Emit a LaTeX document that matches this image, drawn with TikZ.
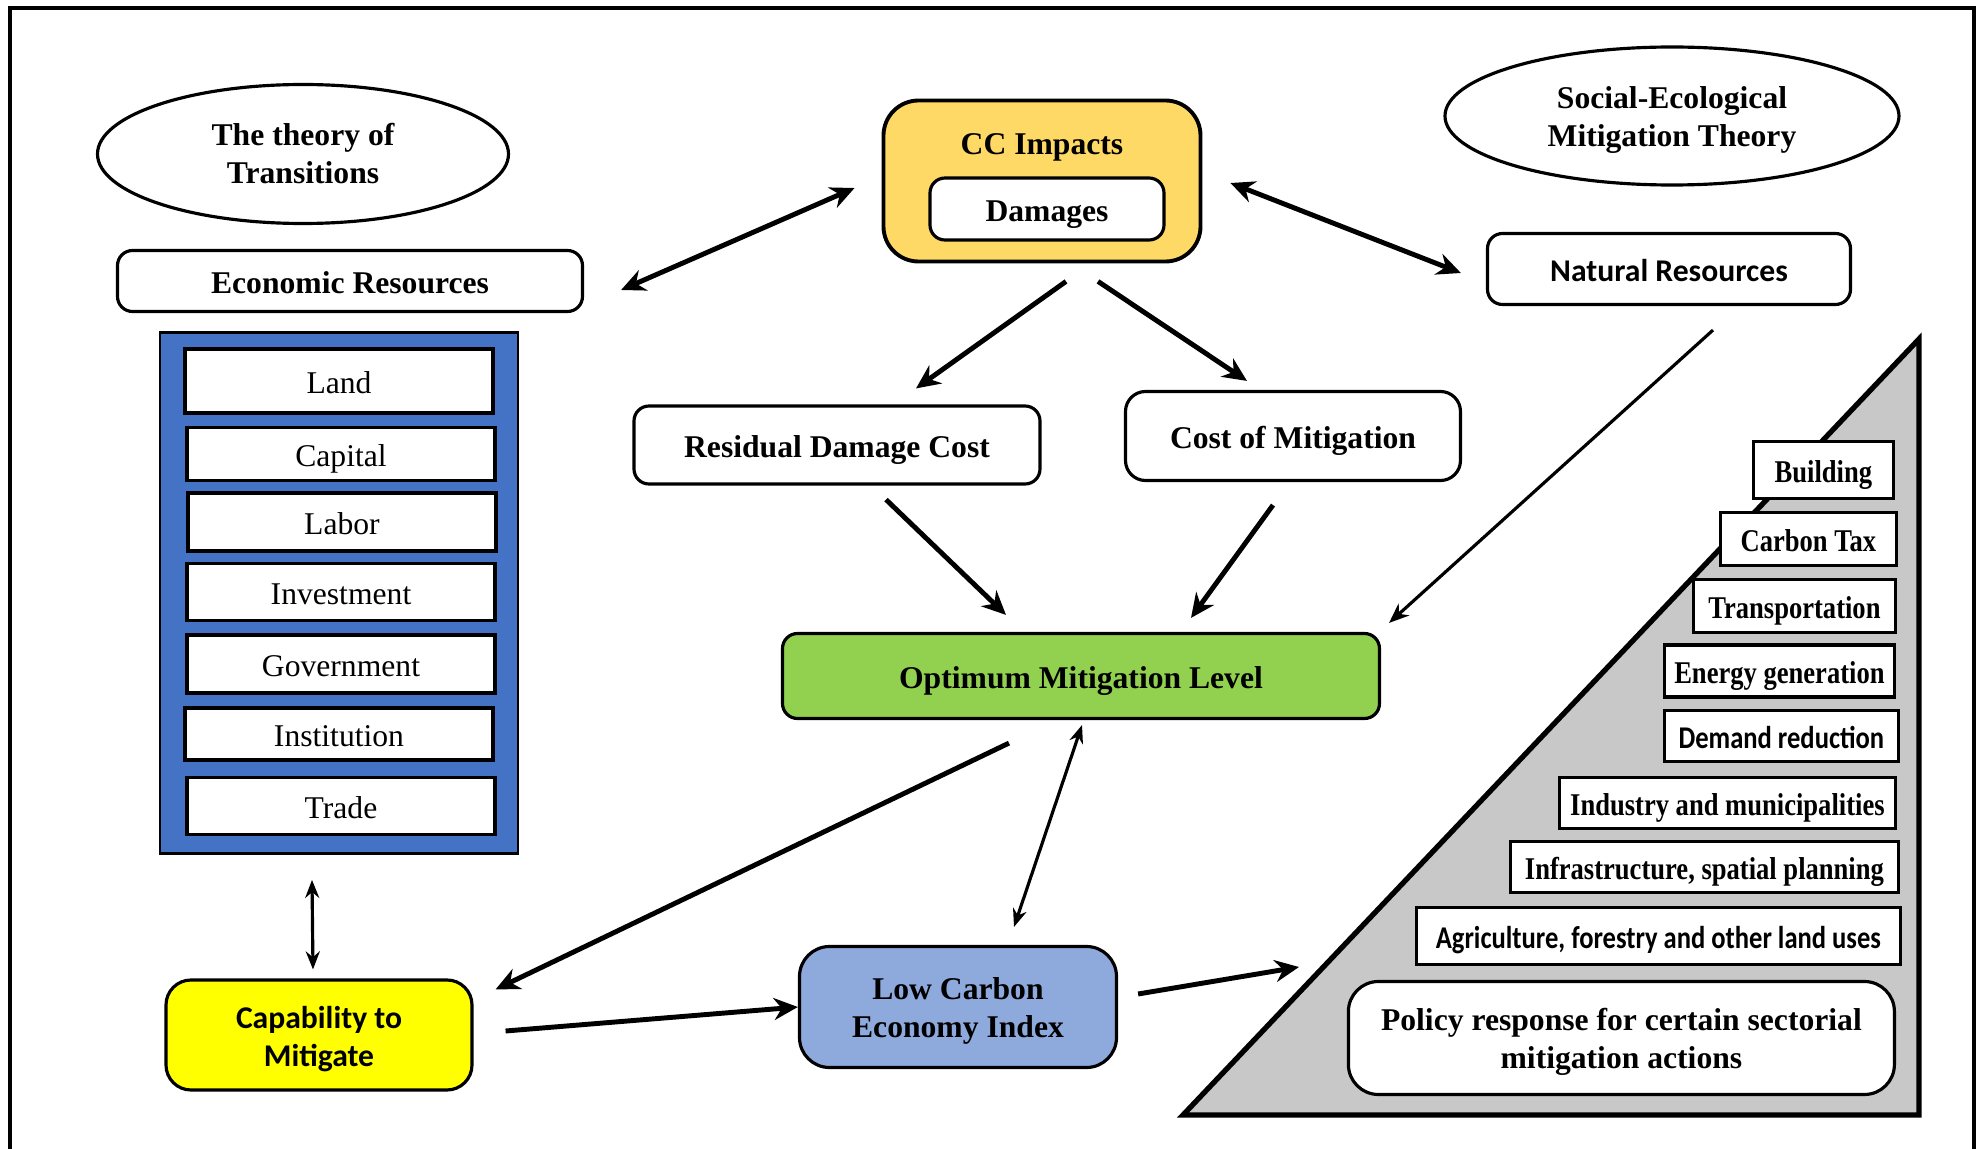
\documentclass[tikz,border=0pt]{standalone}
\usepackage{fontspec}
\setmainfont{Liberation Serif}
\newfontfamily\calibri{Carlito}
\newfontfamily\serifcond[FakeStretch=0.84]{Liberation Serif}
\newfontfamily\calibricond[FakeStretch=0.84]{Carlito}
\usepackage{xcolor}
\usetikzlibrary{shapes.geometric, arrows.meta}
\newcommand{\alto}{\rule{0pt}{8.5pt}}

\begin{document}
\begin{tikzpicture}[
  every node/.style={font=\fontsize{9}{10.8}\selectfont\bfseries, align=center, inner sep=0pt},
  linea/.style={text height=8.5pt, text depth=1.5pt},
  caja/.style={draw, rounded corners=1.5mm, line width=0.9pt},
  elipse/.style={ellipse, draw, line width=0.9pt},
  factor/.style={draw, fill=white, line width=0.9pt, linea, minimum width=3.08cm, font=\fontsize{9}{10.8}\selectfont},
  sector/.style={draw, fill=white, line width=0.9pt, linea, anchor=east, font=\fontsize{9}{10.8}\selectfont\serifcond\bfseries},
  flecha/.style={line width=1.4pt, -{Stealth[length=2.4mm, width=2.2mm]}},
  flechadoble/.style={line width=1.4pt, {Stealth[length=2.4mm, width=2.2mm]}-{Stealth[length=2.4mm, width=2.2mm]}},
  flechafina/.style={line width=0.9pt, -{Stealth[length=2mm, width=1.6mm]}},
  flechafinadoble/.style={line width=0.9pt, {Stealth[length=1.8mm, width=1.4mm]}-{Stealth[length=1.8mm, width=1.4mm]}}
]

% Colores de relleno
\definecolor{amarilloCC}{RGB}{255,217,102}
\definecolor{amarilloCap}{RGB}{255,255,0}
\definecolor{verdeOpt}{RGB}{146,208,80}
\definecolor{azulPanel}{RGB}{68,114,196}
\definecolor{azulLCE}{RGB}{142,169,219}
\definecolor{grisTri}{RGB}{200,200,200}

\useasboundingbox (0,0) rectangle (19.82,-11.49);

% Marco
\draw[line width=1.2pt] (0.10,-11.49) -- (0.10,-0.08) -- (19.74,-0.08) -- (19.74,-11.49);

% Teorias
\node[elipse, minimum width=4.11cm, minimum height=1.39cm] (transiciones) at (3.03,-1.54) {The theory of\\Transitions};
\node[elipse, minimum width=4.54cm, minimum height=1.38cm] (socioeco) at (16.72,-1.16) {\alto Social-Ecological\\Mitigation Theory};

% Recursos
\node[caja, linea, minimum width=4.65cm, minimum height=0.61cm] (econ) at (3.50,-2.81) {Economic Resources};
\node[caja, linea, minimum width=3.63cm, minimum height=0.71cm, font=\fontsize{9}{10.8}\selectfont\calibri\bfseries] (natural) at (16.69,-2.69) {Natural Resources};

% Panel de factores
\node[draw, fill=azulPanel, line width=0.8pt, minimum width=3.58cm, minimum height=5.21cm] (panel) at (3.39,-5.93) {};
\node[factor, minimum height=0.64cm] (land) at (3.39,-3.81) {Land};
\node[factor, minimum height=0.53cm] (capital) at (3.41,-4.54) {Capital};
\node[factor, minimum height=0.58cm] (labor) at (3.42,-5.22) {Labor};
\node[factor, minimum height=0.57cm] (invest) at (3.41,-5.92) {Investment};
\node[factor, minimum height=0.58cm] (gov) at (3.41,-6.64) {Government};
\node[factor, minimum height=0.52cm] (inst) at (3.39,-7.34) {Institution};
\node[factor, minimum height=0.57cm] (trade) at (3.41,-8.06) {Trade};

% Impactos
\node[caja, fill=amarilloCC, rounded corners=3.5mm, line width=1.1pt, minimum width=3.17cm, minimum height=1.61cm] (cc) at (10.42,-1.81) {};
\node[linea] (cctitulo) at (10.42,-1.42) {CC Impacts};
\node[caja, linea, fill=white, minimum width=2.34cm, minimum height=0.62cm] (damages) at (10.47,-2.09) {Damages};

% Costes
\node[caja, linea, minimum width=4.06cm, minimum height=0.78cm] (residual) at (8.37,-4.45) {Residual Damage Cost};
\node[caja, linea, rounded corners=2mm, minimum width=3.35cm, minimum height=0.89cm] (cost) at (12.93,-4.36) {Cost of Mitigation};

% Nivel optimo
\node[caja, linea, fill=verdeOpt, minimum width=5.97cm, minimum height=0.85cm] (optimum) at (10.81,-6.76) {Optimum Mitigation Level};

% Capacidad e indice
\node[caja, fill=amarilloCap, rounded corners=2.5mm, minimum width=3.06cm, minimum height=1.10cm, font=\fontsize{9}{10.8}\selectfont\calibri\bfseries] (capability) at (3.19,-10.35) {\alto Capability to\\Mitigate};
\node[caja, fill=azulLCE, rounded corners=3mm, minimum width=3.17cm, minimum height=1.21cm] (lowcarbon) at (9.58,-10.07) {\alto Low Carbon\\Economy Index};

% Triangulo de politicas
\coordinate (triA) at (11.83,-11.15);
\coordinate (triB) at (19.19,-3.39);
\coordinate (triC) at (19.19,-11.15);
\coordinate (politica) at (12.99,-9.67);
\draw[fill=grisTri, line width=1.5pt] (triA) -- (triB) -- (triC) -- cycle;

\node[sector, minimum width=1.40cm, minimum height=0.57cm] (building) at (18.95,-4.70) {Building};
\node[sector, minimum width=1.76cm, minimum height=0.53cm] (carbontax) at (18.98,-5.39) {Carbon Tax};
\node[sector, minimum width=2.02cm, minimum height=0.53cm] (transport) at (18.97,-6.06) {Transportation};
\node[sector, minimum width=2.30cm, minimum height=0.52cm] (energy) at (18.96,-6.71) {Energy generation};
\node[sector, minimum width=2.34cm, minimum height=0.51cm, font=\fontsize{9}{10.8}\selectfont\calibricond\bfseries] (demand) at (19.00,-7.36) {Demand reduction};
\node[sector, minimum width=3.36cm, minimum height=0.51cm] (industry) at (18.97,-8.03) {Industry and municipalities};
\node[sector, minimum width=3.88cm, minimum height=0.51cm] (infra) at (19.00,-8.67) {Infrastructure, spatial planning};
\node[sector, minimum width=4.84cm, minimum height=0.57cm, font=\fontsize{9}{10.8}\selectfont\calibricond\bfseries] (agri) at (19.02,-9.36) {Agriculture, forestry and other land uses};
\node[caja, fill=white, anchor=east, rounded corners=3mm, minimum width=5.46cm, minimum height=1.13cm] (policy) at (18.96,-10.38) {\alto Policy response for certain sectorial\\mitigation actions};

% Conexiones
\draw[flechadoble] ([shift={(0.37,-0.09)}]econ.east) -- ([shift={(-0.27,-0.07)}]cc.west);
\draw[flechadoble] ([shift={(0.28,-0.02)}]cc.east) -- ([shift={(-0.25,-0.04)}]natural.west);
\draw[flecha] ([shift={(0.24,-0.18)}]cc.south) -- ([shift={(0.79,0.16)}]residual.north);
\draw[flecha] ([shift={(0.56,-0.18)}]cc.south) -- ([shift={(-0.46,0.09)}]cost.north);
\draw[flecha] ([shift={(0.49,-0.14)}]residual.south) -- ([shift={(-0.75,0.17)}]optimum.north);
\draw[flecha] ([shift={(-0.20,-0.23)}]cost.south) -- ([shift={(1.10,0.14)}]optimum.north);
\draw[flechafina] ([shift={(0.44,-0.24)}]natural.south) -- ([shift={(0.08,0.09)}]optimum.north east);
\draw[flecha] ([shift={(-0.72,-0.23)}]optimum.south) -- ([shift={(0.22,-0.11)}]capability.north east);
\draw[flechafinadoble] ([shift={(0.01,-0.05)}]optimum.south) -- ([shift={(0.56,0.18)}]lowcarbon.north);
\draw[flecha] ([shift={(0.32,0.04)}]capability.east) -- (lowcarbon.west);
\draw[flecha] ([shift={(0.20,0.13)}]lowcarbon.east) -- (politica);
\draw[flechafinadoble] ([shift={(-0.27,-0.25)}]panel.south) -- ([shift={(-0.06,0.09)}]capability.north);

\end{tikzpicture}
\end{document}
